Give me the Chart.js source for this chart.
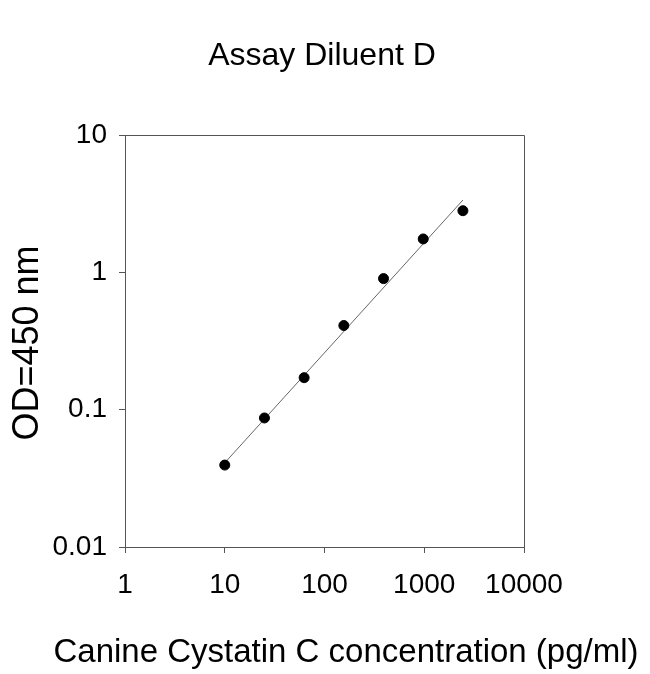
<!DOCTYPE html>
<html>
<head>
<meta charset="utf-8">
<script src="https://cdn.jsdelivr.net/npm/chart.js@4/dist/chart.umd.min.js"></script>
<style>
    body { margin: 0; background: #fff; }
    #wrap { width: 650px; height: 674px; }
</style>
</head>
<body>
<div id="wrap"><canvas id="chart"></canvas></div>
<script>
// standard curve values
const concentration = [10, 25, 62.5, 156.25, 390.6, 976.6, 2441];
const odValues = [0.0395, 0.087, 0.171, 0.41, 0.90, 1.75, 2.81];

// fitted line end points
const fitX = [10, 2441];
const fitY = [0.041, 3.36];

const xTicks = [1, 10, 100, 1000, 10000];
const yTicks = [0.01, 0.1, 1, 10];

const chartTitle = 'Assay Diluent D';
const xTitle = 'Canine Cystatin C concentration (pg/ml)';
const yTitle = 'OD=450 nm';

const axisColor = '#555';
const fontFamily = '"Liberation Sans", Arial, sans-serif';

// box round the plot + axis titles placed like the original
const framePlugin = {
    id: 'frame',
    afterDraw(chart) {
        const { ctx, chartArea } = chart;
        ctx.save();
        ctx.strokeStyle = axisColor;
        ctx.lineWidth = 1;
        ctx.beginPath();
        ctx.moveTo(chartArea.left, chartArea.top + 0.5);
        ctx.lineTo(chartArea.right + 0.5, chartArea.top + 0.5);
        ctx.lineTo(chartArea.right + 0.5, chartArea.bottom);
        ctx.stroke();

        ctx.fillStyle = '#000';
        ctx.font = '33px ' + fontFamily;
        ctx.textAlign = 'center';
        ctx.textBaseline = 'alphabetic';
        ctx.fillText(xTitle, 346, 662);

        const cy = (chartArea.top + chartArea.bottom) / 2 + 2;
        ctx.translate(38, cy);
        ctx.rotate(-Math.PI / 2);
        ctx.font = '36px ' + fontFamily;
        ctx.fillText(yTitle, 0, 0);
        ctx.restore();
    }
};

new Chart(document.getElementById('chart'), {
    type: 'scatter',
    data: {
        datasets: [{
            label: 'OD',
            data: concentration.map((c, i) => ({ x: c, y: odValues[i] })),
            backgroundColor: '#000',
            borderColor: '#000',
            pointRadius: 5,
            pointHoverRadius: 5
        }, {
            label: 'fit',
            type: 'line',
            data: fitX.map((c, i) => ({ x: c, y: fitY[i] })),
            borderColor: '#666',
            borderWidth: 1,
            pointRadius: 0,
            fill: false
        }]
    },
    plugins: [framePlugin],
    options: {
        responsive: true,
        maintainAspectRatio: false,
        animation: false,
        layout: { padding: { left: 0, right: 6, top: 0, bottom: 0 } },
        plugins: {
            legend: { display: false },
            tooltip: { enabled: false },
            title: {
                display: true,
                text: chartTitle,
                color: '#000',
                font: { family: fontFamily, size: 32, weight: 'normal' },
                padding: { top: 37, bottom: 59.6 }
            }
        },
        scales: {
            x: {
                type: 'logarithmic',
                min: 1,
                max: 10000,
                afterBuildTicks: scale => { scale.ticks = xTicks.map(v => ({ value: v })); },
                afterFit: scale => { scale.height = 127; },
                border: { display: true, color: axisColor, width: 1 },
                grid: { display: true, drawOnChartArea: false, drawTicks: true, tickLength: 6, color: axisColor },
                ticks: {
                    color: '#000',
                    padding: 15,
                    maxRotation: 0,
                    autoSkip: false,
                    font: { family: fontFamily, size: 28 },
                    callback: v => String(v)
                }
            },
            y: {
                type: 'logarithmic',
                min: 0.01,
                max: 10,
                afterBuildTicks: scale => { scale.ticks = yTicks.map(v => ({ value: v })); },
                afterFit: scale => { scale.width = 125; },
                border: { display: true, color: axisColor, width: 1 },
                grid: { display: true, drawOnChartArea: false, drawTicks: true, tickLength: 6, color: axisColor },
                ticks: {
                    color: '#000',
                    padding: 12,
                    autoSkip: false,
                    font: { family: fontFamily, size: 28 },
                    callback: v => String(v)
                }
            },
            // empty right-hand axis, only keeps the white margin on the right
            y2: {
                type: 'logarithmic',
                position: 'right',
                min: 0.01,
                max: 10,
                afterFit: scale => { scale.width = 120; },
                border: { display: false },
                grid: { display: false },
                ticks: { display: false }
            }
        }
    }
});
</script>
</body>
</html>
